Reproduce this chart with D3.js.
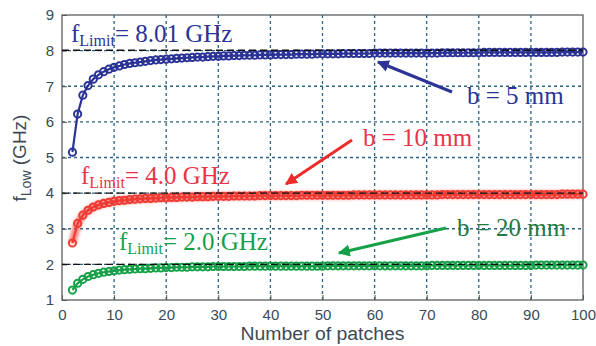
<!DOCTYPE html>
<html>
<head>
<meta charset="utf-8">
<script src="https://cdn.jsdelivr.net/npm/d3@7"></script>
<style>
body { margin: 0; background: #fff; }
svg { display: block; }
.tick text { font-family: "Liberation Sans", Arial, sans-serif; font-size: 15px; fill: #3b4a55; }
.ann { font-family: "Liberation Serif", "Times New Roman", serif; }
</style>
</head>
<body>
<svg id="chart" width="596" height="346"></svg>
<script>
// number of patches (x) and f_Low in GHz for each strip width b
const patches = d3.range(2, 101);
const low5mm = [
  5.15, 6.22, 6.75, 7.02, 7.20, 7.32, 7.41, 7.48, 7.53,
  7.57, 7.61, 7.64, 7.66, 7.68, 7.70, 7.72, 7.74, 7.75, 7.76,
  7.77, 7.78, 7.79, 7.80, 7.81, 7.82, 7.82, 7.83, 7.84, 7.84,
  7.85, 7.85, 7.86, 7.86, 7.87, 7.87, 7.87, 7.88, 7.88, 7.88,
  7.89, 7.89, 7.89, 7.89, 7.90, 7.90, 7.90, 7.90, 7.91, 7.91,
  7.91, 7.91, 7.91, 7.92, 7.92, 7.92, 7.92, 7.92, 7.92, 7.93,
  7.93, 7.93, 7.93, 7.93, 7.93, 7.93, 7.93, 7.93, 7.93, 7.93,
  7.93, 7.93, 7.94, 7.94, 7.94, 7.94, 7.94, 7.94, 7.94, 7.94,
  7.95, 7.95, 7.95, 7.95, 7.95, 7.95, 7.95, 7.95, 7.95, 7.95,
  7.95, 7.95, 7.95, 7.95, 7.95, 7.96, 7.96, 7.96, 7.96, 7.96
];
const low10mm = [
  2.60, 3.15, 3.38, 3.52, 3.61, 3.67, 3.71, 3.74, 3.77,
  3.79, 3.80, 3.82, 3.83, 3.84, 3.85, 3.85, 3.86, 3.87, 3.87,
  3.88, 3.88, 3.89, 3.89, 3.89, 3.90, 3.90, 3.90, 3.91, 3.91,
  3.91, 3.91, 3.92, 3.92, 3.92, 3.92, 3.92, 3.93, 3.93, 3.93,
  3.93, 3.93, 3.93, 3.93, 3.93, 3.94, 3.94, 3.94, 3.94, 3.94,
  3.94, 3.94, 3.94, 3.94, 3.94, 3.95, 3.95, 3.95, 3.95, 3.95,
  3.95, 3.95, 3.95, 3.95, 3.95, 3.95, 3.95, 3.95, 3.95, 3.95,
  3.95, 3.95, 3.96, 3.96, 3.96, 3.96, 3.96, 3.96, 3.96, 3.96,
  3.96, 3.96, 3.96, 3.96, 3.96, 3.96, 3.96, 3.96, 3.96, 3.96,
  3.96, 3.96, 3.96, 3.96, 3.96, 3.97, 3.97, 3.97, 3.97, 3.97
];
const low20mm = [
  1.28, 1.47, 1.58, 1.66, 1.71, 1.75, 1.78, 1.80, 1.82,
  1.84, 1.85, 1.86, 1.87, 1.88, 1.88, 1.89, 1.90, 1.90, 1.91,
  1.91, 1.92, 1.92, 1.92, 1.93, 1.93, 1.93, 1.93, 1.94, 1.94,
  1.94, 1.94, 1.94, 1.94, 1.94, 1.95, 1.95, 1.95, 1.95, 1.95,
  1.95, 1.95, 1.95, 1.95, 1.95, 1.95, 1.95, 1.95, 1.95, 1.95,
  1.96, 1.96, 1.96, 1.96, 1.96, 1.96, 1.96, 1.96, 1.96, 1.96,
  1.96, 1.96, 1.96, 1.96, 1.96, 1.96, 1.96, 1.96, 1.96, 1.96,
  1.97, 1.97, 1.97, 1.97, 1.97, 1.97, 1.97, 1.97, 1.97, 1.97,
  1.97, 1.97, 1.97, 1.97, 1.97, 1.97, 1.97, 1.97, 1.97, 1.97,
  1.98, 1.98, 1.98, 1.98, 1.98, 1.98, 1.98, 1.98, 1.98, 1.98
];
const limits = [8.01, 4.0, 2.0];
const xTicks = [0, 10, 20, 30, 40, 50, 60, 70, 80, 90, 100];
const yTicks = [1, 2, 3, 4, 5, 6, 7, 8, 9];

const margin = {top: 15, right: 13, bottom: 46, left: 62};
const width = 596, height = 346;
const svg = d3.select('#chart');

const x = d3.scaleLinear().domain([0, 100]).range([margin.left, width - margin.right]);
const y = d3.scaleLinear().domain([1, 9]).range([height - margin.bottom, margin.top]);

const defs = svg.append('defs');
defs.append('filter').attr('id', 'glow')
    .attr('x', '-5%').attr('y', '-20%').attr('width', '110%').attr('height', '140%')
    .append('feGaussianBlur').attr('stdDeviation', 1.6);
[['arrBlue', '#2b3396'], ['arrRed', '#ee2a2a'], ['arrGreen', '#16a048']].forEach(([id, c]) => {
    defs.append('marker').attr('id', id)
        .attr('viewBox', '0 0 10 10').attr('refX', 9).attr('refY', 5)
        .attr('markerWidth', 4).attr('markerHeight', 4).attr('orient', 'auto')
        .append('path').attr('d', 'M0,0 L10,5 L0,10 Z').attr('fill', c);
});

// dotted grid
const grid = svg.append('g').attr('class', 'grid')
    .attr('stroke', '#2a6682').attr('stroke-width', 1.3).attr('stroke-dasharray', '3,3');
grid.selectAll('line.v').data(xTicks.slice(1, -1)).join('line')
    .attr('class', 'v')
    .attr('x1', d => x(d)).attr('x2', d => x(d))
    .attr('y1', y(1)).attr('y2', y(9));
grid.selectAll('line.h').data(yTicks.slice(1, -1)).join('line')
    .attr('class', 'h')
    .attr('x1', x(0)).attr('x2', x(100))
    .attr('y1', d => y(d)).attr('y2', d => y(d));

// axes
const xAxis = d3.axisBottom(x).tickValues(xTicks).tickSizeInner(-5).tickSizeOuter(0).tickPadding(9);
const yAxis = d3.axisLeft(y).tickValues(yTicks).tickSizeInner(-5).tickSizeOuter(0).tickPadding(8);
svg.append('g').attr('transform', `translate(0,${y(1)})`).call(xAxis);
svg.append('g').attr('transform', `translate(${x(0)},0)`).call(yAxis);
svg.selectAll('.domain').remove();
svg.selectAll('.tick line').attr('stroke', '#555');
svg.append('rect')
    .attr('x', x(0)).attr('y', y(9))
    .attr('width', x(100) - x(0)).attr('height', y(1) - y(9))
    .attr('fill', 'none').attr('stroke', '#5a5f63').attr('stroke-width', 1.3);

// series
const series = [
    {values: low5mm, color: '#2b3396', glow: false},
    {values: low10mm, color: '#ef3b34', glow: true},
    {values: low20mm, color: '#16a048', glow: false}
];
const line = d3.line().x(d => x(d[0])).y(d => y(d[1]));
series.forEach(s => {
    const pts = patches.map((n, i) => [n, s.values[i]]);
    const g = svg.append('g');
    if(s.glow) {
        g.append('path').datum(pts).attr('d', line)
            .attr('fill', 'none').attr('stroke', s.color).attr('stroke-width', 8)
            .attr('stroke-opacity', 0.6).attr('filter', 'url(#glow)');
    }
    g.append('path').datum(pts).attr('d', line)
        .attr('fill', 'none').attr('stroke', s.color).attr('stroke-width', 2.2);
    g.selectAll('circle').data(pts).join('circle')
        .attr('cx', d => x(d[0])).attr('cy', d => y(d[1])).attr('r', 3.6)
        .attr('fill', 'none').attr('stroke', s.color).attr('stroke-width', 2);
});
// limit dashes drawn over the markers
svg.append('g').selectAll('line').data(limits).join('line')
    .attr('x1', x(0)).attr('x2', x(100))
    .attr('y1', d => y(d)).attr('y2', d => y(d))
    .attr('stroke', '#111').attr('stroke-width', 1.4).attr('stroke-dasharray', '7,4');

// axis titles
svg.append('text')
    .attr('x', (x(0) + x(100)) / 2).attr('y', 340)
    .attr('text-anchor', 'middle')
    .attr('textLength', 164).attr('lengthAdjust', 'spacingAndGlyphs')
    .style('font-family', '"Liberation Sans", Arial, sans-serif').style('font-size', '18px').style('fill', '#3b4a55')
    .text('Number of patches');
const yl = svg.append('text')
    .attr('transform', 'translate(26,158) rotate(-90)')
    .attr('text-anchor', 'middle')
    .style('font-family', '"Liberation Sans", Arial, sans-serif').style('font-size', '19px').style('fill', '#3b4a55');
yl.append('tspan').text('f');
yl.append('tspan').attr('dy', 5).style('font-size', '14px').text('Low');
yl.append('tspan').attr('dy', -5).text(' (GHz)');

// annotations
const limitLabels = [
    {x: 71, y: 42, value: '8.01', color: '#2b3396'},
    {x: 81, y: 184, value: '4.0', color: '#e8344a'},
    {x: 119, y: 250, value: '2.0', color: '#16a048'}
];
limitLabels.forEach(l => {
    const t = svg.append('text').attr('class', 'ann')
        .attr('x', l.x).attr('y', l.y).style('fill', l.color).style('font-size', '25px');
    t.append('tspan').text('f');
    t.append('tspan').attr('dy', 4).style('font-size', '16px').text('Limit');
    t.append('tspan').attr('dy', -4).text('= ' + l.value + ' GHz');
});
const widthLabels = [
    {text: 'b = 5 mm', tx: 467, ty: 104, color: '#2b3396', from: [452, 92], to: [378, 62], marker: 'arrBlue', lc: '#2b3396'},
    {text: 'b = 10 mm', tx: 363, ty: 146, color: '#e8344a', from: [352, 140], to: [286, 184], marker: 'arrRed', lc: '#ee2a2a'},
    {text: 'b = 20 mm', tx: 457, ty: 236, color: '#227a40', from: [446, 228], to: [339, 253], marker: 'arrGreen', lc: '#16a048'}
];
widthLabels.forEach(l => {
    svg.append('line')
        .attr('x1', l.from[0]).attr('y1', l.from[1]).attr('x2', l.to[0]).attr('y2', l.to[1])
        .attr('stroke', l.lc).attr('stroke-width', 3).attr('marker-end', `url(#${l.marker})`);
    svg.append('text').attr('class', 'ann')
        .attr('x', l.tx).attr('y', l.ty).style('fill', l.color).style('font-size', '25px')
        .text(l.text);
});
</script>
</body>
</html>
